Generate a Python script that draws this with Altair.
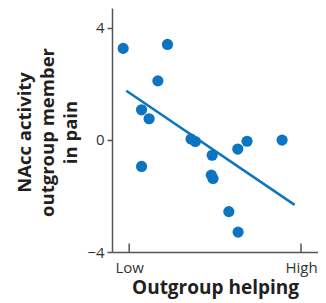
import altair as alt
import pandas as pd

# data
helping = [-0.035, 0.223, 0.167, 0.072, 0.116, 0.072, 0.36, 0.385, 0.483, 0.478, 0.488, 0.58, 0.634, 0.632, 0.686, 0.890]
nacc = [3.26, 3.40, 2.10, 1.07, 0.75, -0.95, 0.03, -0.06, -0.55, -1.26, -1.38, -2.56, -3.29, -0.33, -0.05, -0.01]

fit_x = [-0.017, 0.963]
fit_y = [1.75, -2.32]

x_ticks = [0, 1]
x_tick_labels = ["Low", "High"]
y_ticks = [-4, 0, 4]

BLUE = "#0b75c1"
AXIS = "#555555"
FONT = "Open Sans"

pts = pd.DataFrame({"x": helping, "y": nacc})
fit = pd.DataFrame({"x": fit_x, "y": fit_y})
ticks = pd.DataFrame({"x": x_ticks, "y": [-4] * 2, "y2": [-3.7] * 2})

xs = alt.Scale(domain=[-0.1, 1.099], nice=False, zero=False)
ys = alt.Scale(domain=[-4, 4.7], nice=False, zero=False)

label_expr = "datum.value == 0 ? '%s' : '%s'" % (x_tick_labels[0], x_tick_labels[1])

x_axis = alt.Axis(
    values=x_ticks, labelExpr=label_expr, ticks=False, grid=False,
    domainColor=AXIS, domainWidth=1.5, labelFont=FONT, labelFontSize=15,
    labelColor="#333333", labelPadding=8, title="Outgroup helping",
    titleFont=FONT, titleFontSize=19, titleFontWeight="bold", titleColor="#231f20",
    titlePadding=3,
)
y_axis = alt.Axis(
    values=y_ticks, grid=False, domainColor=AXIS, domainWidth=1.5,
    tickColor=AXIS, tickWidth=1.5, tickSize=5, labelFont=FONT, labelFontSize=15,
    labelColor="#333333", labelPadding=3,
    title=["NAcc activity", "outgroup member", "in pain"],
    titleFont=FONT, titleFontSize=18.5, titleFontWeight="bold", titleColor="#231f20",
    titleLineHeight=23, titlePadding=6, titleY=124,
)

points = alt.Chart(pts).mark_circle(size=125, opacity=1, color=BLUE).encode(
    x=alt.X("x:Q", scale=xs, axis=x_axis),
    y=alt.Y("y:Q", scale=ys, axis=y_axis),
)
line = alt.Chart(fit).mark_line(color=BLUE, strokeWidth=2.5).encode(
    x=alt.X("x:Q", scale=xs), y=alt.Y("y:Q", scale=ys)
)
tick_marks = alt.Chart(ticks).mark_rule(color=AXIS, strokeWidth=1.5).encode(
    x=alt.X("x:Q", scale=xs), y=alt.Y("y:Q", scale=ys), y2="y2:Q"
)

chart = alt.layer(tick_marks, line, points).properties(
    width=206, height=244,
    autosize=alt.AutoSizeParams(type="none"),
    padding={"left": 104, "top": 0, "right": 0, "bottom": 52},
).configure_view(stroke=None)

chart.save("out.html", embed_options={"renderer": "svg", "actions": False})
